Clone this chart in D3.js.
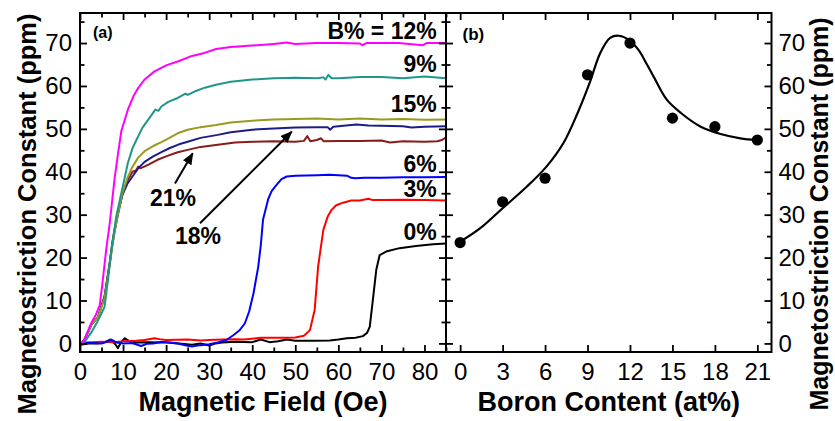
<!DOCTYPE html>
<html>
<head>
<meta charset="utf-8">
<script src="https://cdn.jsdelivr.net/npm/d3@7"></script>
<style>
  body { margin: 0; background: #fff; }
  svg { display: block; }
  text { font-family: "Liberation Sans", Arial, Helvetica, sans-serif; }
</style>
</head>
<body>
<svg id="chart" width="835" height="421"></svg>
<script>
// ---------- data ----------
// (a) magnetostriction vs. applied field, one curve per boron content: [field (Oe), lambda (ppm)]
const curve0 = [[0,-0.3],[2,0],[4,0],[5.5,0.2],[7,0.9],[8.2,-0.2],[8.8,-1.1],[9.5,0.2],[10.4,1.2],[11.5,0.5],[13,0.2],[16,0.3],[20,0.2],[23,0],[26,-0.3],[28,0],[30,-0.5],[31.5,0],[33,0.2],[36,0.4],[40,0.3],[42,0.9],[44,0.3],[46,0.5],[48,0.9],[50,0.6],[54,0.6],[58,0.7],[60,0.9],[62,1.2],[64,1.3],[65.7,1.7],[66.7,2.5],[67.3,3.9],[68.1,10.9],[68.8,17.1],[69.6,20.6],[71.1,21.4],[74.2,22.2],[78,22.7],[82,23.1],[85,23.3]];
const curve3 = [[0,-0.3],[2,0.2],[5,0.4],[8,0.3],[10,0.5],[13,0.6],[15,0.8],[17.3,1.2],[18.5,1],[20,0.8],[25,0.9],[28,0.7],[30,0.8],[33,0.9],[36,1.0],[38,0.9],[40,1.1],[42,1.3],[45,1.3],[48,1.3],[50,1.4],[52,1.8],[53.4,3.1],[54.5,7.8],[55.3,17.9],[56.5,26.4],[57.5,29.5],[58.4,31.1],[59.5,32.2],[61.1,32.8],[63,33.3],[65,33.3],[67,33.7],[68,33.4],[70,33.4],[75,33.5],[80,33.4],[85,33.3]];
const curve6 = [[0,-0.3],[1,0.2],[3,0.1],[5,0],[6,0.3],[7.3,0.9],[8.5,0.2],[10,0],[12,0.1],[13,-0.2],[14.2,-0.6],[15.5,-0.1],[17,0],[19,0.4],[21,0.2],[23,-0.1],[24.7,-0.5],[26,-0.7],[28,-0.4],[30,-0.2],[32,0.2],[34,0.8],[35.6,1.9],[37,3],[38.3,4.7],[39.3,7.5],[40.3,11.7],[41.4,17.9],[42,23],[42.5,28.8],[43.7,33.6],[44.5,35.5],[45.6,36.9],[46.8,38.3],[48,38.9],[50,39.1],[55,39.2],[58,39.3],[60,39.2],[62,39.1],[63,38.6],[64,38.5],[66,38.6],[70,38.6],[75,38.7],[80,38.7],[85,38.8]];
const curve9 = [[0,-0.3],[1,0.3],[2.6,2.5],[4,5],[5,7],[5.7,8.5],[6.5,14.8],[7.3,21.8],[7.7,24.5],[8.4,29.5],[9.6,35],[11.1,42],[12.2,45.5],[13.1,47.4],[14.5,50.3],[16.1,52.5],[17.5,54.5],[18.2,54.2],[18.9,55.2],[20.5,56.3],[22.7,57.2],[24.5,58.2],[25,57.9],[26.6,58.7],[29,59.6],[31.6,60.3],[35,61],[40,61.5],[45,61.8],[50,61.9],[55,61.8],[56.5,62],[57,61.5],[57.7,62.6],[58.4,61.8],[60,61.8],[65,62.1],[70,62.1],[75,61.8],[80,62.2],[85,61.8]];
const curve12 = [[0,-0.3],[1,0.8],[2.6,4.7],[3.6,6.5],[4.6,9],[5.3,14.8],[6.1,22],[6.9,28],[8,38.1],[8.8,44],[9.6,49.5],[11.1,54.4],[12.5,57.8],[13.5,59.5],[15,61.5],[17.3,63.4],[20,64.8],[22.7,65.7],[26,67],[28.9,67.7],[31.6,68.6],[35,69.1],[40,69.4],[45,69.8],[48,70.1],[50,69.8],[55,70],[60,70],[65,69.9],[65.6,69.5],[66.5,70],[72,70],[74,70],[79.6,69.5],[80.5,70],[85,70]];
const curve15 = [[0,-0.3],[1,0.8],[2.6,4.3],[4.2,6.2],[5.7,10.5],[6.9,18.3],[7.5,22.5],[8,25.8],[8.8,30],[9.8,34.8],[11,38.5],[12,40.8],[13.5,43.3],[15,44.8],[17,46],[18.9,46.9],[21,48],[23,49.1],[25,49.8],[28,50.4],[31.6,50.9],[35,51.5],[40,51.9],[45,52.2],[50,52.3],[55,52.4],[60,52.2],[65,52.4],[70,52.2],[75,52.3],[80,52.1],[85,52.2]];
const curve18 = [[0,-0.3],[1,0.8],[2.6,4.3],[4.2,6.2],[5.7,10.9],[6.9,18.7],[7.5,23],[8,26],[8.8,30],[9.8,34.5],[11,37.2],[11.9,38.5],[13.5,40.8],[15,42.3],[17,43.6],[18.9,44.6],[21,45.6],[23,46.4],[25,47],[28,47.9],[32,48.6],[35,49.2],[40,49.8],[45,50.1],[50,50.3],[55,50.4],[57.5,50.4],[58.1,49.8],[58.8,50.5],[60,50.6],[64.2,51],[67,50.8],[70,50.7],[75,50.6],[77,50.3],[80,50.5],[85,50.6]];
const curve21 = [[0,-0.3],[1,0.8],[2.6,4.3],[4.2,6.2],[5.7,10.9],[6.9,18.7],[7.5,23.5],[8,26.4],[8.8,30.5],[9.8,34.5],[11.1,38.1],[12.2,40],[13,40.3],[13.5,41.2],[14,40.8],[15.8,41.6],[18,42.8],[20,43.6],[22.5,44.5],[25,45.1],[28,45.8],[32,46.3],[36,46.8],[40,47],[45,47.1],[50,47],[52,47.2],[52.8,48.3],[53.5,47.1],[55,47.4],[56,47.8],[56.6,47.1],[60,47.2],[65,47.2],[70,47.3],[72,46.8],[75,47.1],[80,47.0],[83,47.1],[84,47.4],[85,48]];

// (b) saturation magnetostriction vs. boron content
const boron  = [0, 3, 6, 9, 12, 15, 18, 21];
const lambdaS = [23.5, 33.0, 38.5, 62.6, 70.0, 52.5, 50.5, 47.4];
// guide-to-the-eye curve through the points
const guideB = [0, 1.4, 3, 4.7, 6.1, 7.3, 8.3, 9.15, 9.9, 10.6, 11.2, 11.9, 12.6, 13.2, 13.7, 14.6, 15.6, 17, 18.4, 19.8, 21];
const guideL = [23.7, 26.8, 31.5, 36.5, 41.2, 46.7, 53.7, 60.7, 67.7, 71.2, 71.7, 70.8, 68.4, 65, 62, 56.8, 53.7, 50.5, 48.8, 47.8, 47.4];

// axis ticks
const fieldTicks  = [0, 10, 20, 30, 40, 50, 60, 70, 80];
const fieldMinor  = [5, 15, 25, 35, 45, 55, 65, 75, 85];
const lambdaTicks = [0, 10, 20, 30, 40, 50, 60, 70];
const lambdaMinor = [5, 15, 25, 35, 45, 55, 65, 75];
const boronTicks  = [0, 3, 6, 9, 12, 15, 18, 21];

// ---------- layout ----------
const svg = d3.select("#chart");
const plotTop = 13, plotBottom = 352, aLeft = 80, split = 446, bRight = 771.5;

const xA = d3.scaleLinear().domain([0, 85]).range([aLeft, split]);
const xB = d3.scaleLinear().domain([-1, 22]).range([split, bRight]);
const yS = d3.scaleLinear().domain([-2, 77]).range([plotBottom, plotTop]);

const series = [
  { data: curve0,  color: "#000000" },
  { data: curve3,  color: "#ff0000" },
  { data: curve6,  color: "#0000ff" },
  { data: curve21, color: "#8b1a1a" },
  { data: curve18, color: "#1c1c8a" },
  { data: curve15, color: "#9a9a1c" },
  { data: curve9,  color: "#1f968a" },
  { data: curve12, color: "#ff00ff" }
];

// ---------- panel (a) curves ----------
svg.append("clipPath").attr("id", "clipA")
  .append("rect").attr("x", aLeft).attr("y", plotTop)
  .attr("width", split - aLeft).attr("height", plotBottom - plotTop);

const lineA = d3.line().x(d => xA(d[0])).y(d => yS(d[1]));
svg.append("g").attr("clip-path", "url(#clipA)")
  .selectAll("path").data(series).join("path")
  .attr("d", d => lineA(d.data))
  .attr("fill", "none")
  .attr("stroke", d => d.color)
  .attr("stroke-width", 2)
  .attr("stroke-linejoin", "round");

// ---------- panel (b) ----------
const guide = guideB.map((b, i) => [b, guideL[i]]);
svg.append("path")
  .attr("d", d3.line().x(d => xB(d[0])).y(d => yS(d[1])).curve(d3.curveCatmullRom)(guide))
  .attr("fill", "none").attr("stroke", "#000").attr("stroke-width", 2.2);

svg.append("g").selectAll("circle").data(boron).join("circle")
  .attr("cx", d => xB(d))
  .attr("cy", (d, i) => yS(lambdaS[i]))
  .attr("r", 5.6)
  .attr("fill", "#000");

// ---------- axes ----------
function styleAxis(g, size) {
  g.select(".domain").remove();
  g.selectAll(".tick line").attr("stroke", "#000").attr("stroke-width", 1.8);
  g.attr("font-size", size).attr("font-family", '"Liberation Sans", Arial, sans-serif');
  g.selectAll("text").attr("fill", "#000");
}
function addAxis(axis, tx, ty, size) {
  const g = svg.append("g").attr("transform", `translate(${tx},${ty})`).call(axis);
  styleAxis(g, size || 24);
  return g;
}
const none = () => "";

// panel (a)
addAxis(d3.axisBottom(xA).tickValues(fieldTicks).tickSize(-7).tickSizeOuter(0).tickPadding(11), 0, plotBottom);
addAxis(d3.axisBottom(xA).tickValues(fieldMinor).tickSize(-4.5).tickSizeOuter(0).tickFormat(none), 0, plotBottom);
addAxis(d3.axisTop(xA).tickValues(fieldTicks).tickSize(-7).tickSizeOuter(0).tickFormat(none), 0, plotTop);
addAxis(d3.axisTop(xA).tickValues(fieldMinor).tickSize(-4.5).tickSizeOuter(0).tickFormat(none), 0, plotTop);
addAxis(d3.axisLeft(yS).tickValues(lambdaTicks).tickSize(-7).tickSizeOuter(0).tickPadding(8), aLeft, 0);
addAxis(d3.axisLeft(yS).tickValues(lambdaMinor).tickSize(-4.5).tickSizeOuter(0).tickFormat(none), aLeft, 0);
addAxis(d3.axisRight(yS).tickValues(lambdaTicks).tickSize(-7).tickSizeOuter(0).tickFormat(none), split, 0);
addAxis(d3.axisRight(yS).tickValues(lambdaMinor).tickSize(-4.5).tickSizeOuter(0).tickFormat(none), split, 0);

// panel (b)
addAxis(d3.axisBottom(xB).tickValues(boronTicks).tickSize(-7).tickSizeOuter(0).tickPadding(11), 0, plotBottom);
addAxis(d3.axisTop(xB).tickValues(boronTicks).tickSize(-7).tickSizeOuter(0).tickFormat(none), 0, plotTop);
addAxis(d3.axisLeft(yS).tickValues(lambdaTicks).tickSize(-7).tickSizeOuter(0).tickFormat(none), split, 0);
addAxis(d3.axisLeft(yS).tickValues(lambdaMinor).tickSize(-4.5).tickSizeOuter(0).tickFormat(none), split, 0);
addAxis(d3.axisRight(yS).tickValues(lambdaTicks).tickSize(-7).tickSizeOuter(0).tickPadding(7), bRight, 0);
addAxis(d3.axisRight(yS).tickValues(lambdaMinor).tickSize(-4.5).tickSizeOuter(0).tickFormat(none), bRight, 0);

// frames
[[aLeft, split], [split, bRight]].forEach(([x0, x1]) => {
  svg.append("rect").attr("x", x0).attr("y", plotTop)
    .attr("width", x1 - x0).attr("height", plotBottom - plotTop)
    .attr("fill", "none").attr("stroke", "#000").attr("stroke-width", 2);
});

// ---------- titles ----------
svg.append("text").attr("x", (aLeft + split) / 2).attr("y", 411)
  .attr("text-anchor", "middle").attr("font-weight", "bold").attr("font-size", 27)
  .text("Magnetic Field (Oe)");
svg.append("text").attr("x", (split + bRight) / 2).attr("y", 411)
  .attr("text-anchor", "middle").attr("font-weight", "bold").attr("font-size", 27)
  .text("Boron Content (at%)");
svg.append("text").attr("transform", "translate(36,214) rotate(-90)")
  .attr("text-anchor", "middle").attr("font-weight", "bold").attr("font-size", 25.5)
  .text("Magnetostriction Constant (ppm)");
svg.append("text").attr("transform", "translate(828,214) rotate(-90)")
  .attr("text-anchor", "middle").attr("font-weight", "bold").attr("font-size", 25)
  .text("Magnetostriction Constant (ppm)");

// panel tags
svg.append("text").attr("x", aLeft + 13).attr("y", 38)
  .attr("font-weight", "bold").attr("font-size", 16).text("(a)");
svg.append("text").attr("x", split + 16.5).attr("y", 39.5)
  .attr("font-weight", "bold").attr("font-size", 17).text("(b)");

// ---------- curve labels ----------
const labelX = xA(85) - 9.3;
const rightLabels = [
  { text: "B% = 12%", y: 38.5 },
  { text: "9%",       y: 71.5 },
  { text: "15%",      y: 111.7 },
  { text: "6%",       y: 171.7 },
  { text: "3%",       y: 196.7 },
  { text: "0%",       y: 240 }
];
svg.append("g").selectAll("text").data(rightLabels).join("text")
  .attr("x", labelX).attr("y", d => d.y)
  .attr("text-anchor", "end").attr("font-weight", "bold").attr("font-size", 23)
  .text(d => d.text);

svg.append("text").attr("x", 150).attr("y", 206)
  .attr("font-weight", "bold").attr("font-size", 23).text("21%");
svg.append("text").attr("x", 175).attr("y", 244)
  .attr("font-weight", "bold").attr("font-size", 23).text("18%");

// arrows pointing at the 21 % and 18 % curves
svg.append("defs").append("marker")
  .attr("id", "head").attr("viewBox", "0 0 12 10")
  .attr("refX", 11).attr("refY", 5)
  .attr("markerWidth", 12).attr("markerHeight", 10)
  .attr("markerUnits", "userSpaceOnUse").attr("orient", "auto")
  .append("path").attr("d", "M0,0 L12,5 L0,10 Z").attr("fill", "#000");

const arrows = [
  { x1: 175, y1: 183.5, x2: 192.7, y2: 153.3 },
  { x1: 200, y1: 223.3, x2: 291.7, y2: 131.7 }
];
svg.append("g").selectAll("line").data(arrows).join("line")
  .attr("x1", d => d.x1).attr("y1", d => d.y1)
  .attr("x2", d => d.x2).attr("y2", d => d.y2)
  .attr("stroke", "#000").attr("stroke-width", 2)
  .attr("marker-end", "url(#head)");
</script>
</body>
</html>
